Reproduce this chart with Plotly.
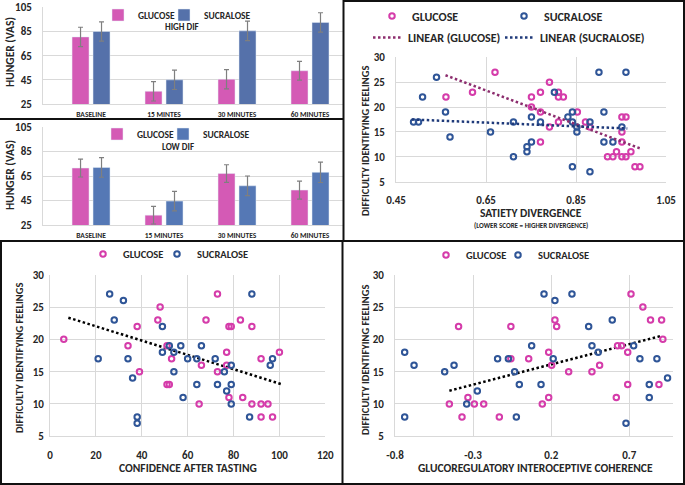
import numpy as np
import plotly.graph_objects as go

W, H = 685, 485
FONT = "Carlito, Lato, 'Open Sans', sans-serif"
TXT = "#262626"
GRID = "#D9D9D9"

# ---------------- data ----------------
# Hunger (VAS) bar charts
times_high = ["BASELINE", "15 MINTES", "30 MINUTES", "60 MINUTES"]
times_low = ["BASELINE", "15 MINUTES", "30 MINUTES", "60 MINUTES"]
high_glucose = [80.5, 35.5, 45.5, 52.5]
high_glucose_err = [8, 8, 8, 7.7]
high_sucralose = [85, 45, 85.5, 92.5]
high_sucralose_err = [8, 8, 8, 8]
low_glucose = [71.5, 33, 67, 53.5]
low_glucose_err = [7.3, 7.2, 7.2, 7.3]
low_sucralose = [72, 44.5, 57, 68]
low_sucralose_err = [8, 8, 8, 8.3]

# Satiety divergence vs difficulty identifying feelings
sat_glu_x = [0.670, 0.561, 0.620, 0.751, 0.771, 0.791, 0.811, 0.811, 0.822, 0.751,
             0.771, 0.853, 0.811, 0.791, 0.771, 0.871, 0.881, 0.952, 0.961, 0.952,
             0.952, 0.920, 0.932, 0.940, 0.952, 0.961, 0.972, 0.981, 0.992]
sat_glu_y = [27, 22, 23, 22, 23, 25, 23, 22, 22, 20,
             19, 19, 17, 16, 13, 17, 16, 18, 18, 15,
             13, 10, 10, 11, 10, 10, 11, 8, 8]
sat_suc_x = [0.540, 0.509, 0.489, 0.500, 0.560, 0.570, 0.660, 0.711, 0.711, 0.741,
             0.741, 0.751, 0.751, 0.771, 0.802, 0.832, 0.842, 0.842, 0.852, 0.852,
             0.842, 0.881, 0.881, 0.901, 0.912, 0.912, 0.932, 0.952, 0.961]
sat_suc_y = [26, 22, 17, 17, 19, 14, 15, 17, 10, 12,
             11, 13, 18, 17, 23, 18, 19, 17, 16, 15,
             8, 17, 7, 27, 19, 13, 13, 16, 27]
sat_glu_trend_x = [0.560, 0.995]
sat_glu_trend_y = [26.4, 11.6]
sat_suc_trend_x = [0.485, 0.964]
sat_suc_trend_y = [17.5, 15.7]

# Confidence after tasting
conf_glu_x = [6, 34, 38, 39, 48, 47, 51, 52, 51, 53, 65, 66, 68, 73, 73,
              77, 77, 78, 78, 79, 83, 84, 88, 88, 92, 92, 92, 95, 97, 100]
conf_glu_y = [20, 19, 22, 15, 25, 23, 13, 13, 19, 17, 10, 16, 23, 27, 15,
              18, 16, 11, 22, 22, 23, 11, 22, 10, 17, 10, 8, 10, 8, 18]
conf_suc_x = [21, 26, 28, 32, 34, 36, 38, 38, 49, 49, 52, 54, 54, 57, 58,
              60, 64, 64, 66, 72, 73, 76, 77, 79, 79, 79, 87, 88, 96, 97]
conf_suc_y = [17, 27, 23, 26, 17, 14, 8, 7, 22, 18, 19, 18, 15, 19, 11,
              17, 17, 13, 19, 17, 13, 15, 12, 16, 13, 10, 8, 27, 16, 17]
conf_trend_x = [8, 101.5]
conf_trend_y = [23.35, 13.0]

# Glucoregulatory interoceptive coherence
coh_glu_x = [-0.393, -0.333, -0.452, -0.371, -0.292, -0.232, -0.132, -0.058, -0.058, 0.056,
             0.143, 0.184, 0.184, 0.203, 0.224, 0.235, 0.312, 0.461, 0.510, 0.617,
             0.625, 0.651, 0.690, 0.690, 0.711, 0.787, 0.836, 0.890, 0.907, 0.915]
coh_glu_y = [22, 11, 10, 8, 10, 10, 8, 22, 17, 17,
             10, 18, 11, 16, 23, 22, 15, 15, 16, 11,
             19, 19, 18, 13, 27, 25, 23, 13, 23, 20]
coh_suc_x = [-0.738, -0.738, -0.678, -0.482, -0.422, -0.341, -0.273, -0.143, -0.074, -0.034,
             -0.023, -0.004, 0.075, 0.135, 0.154, 0.213, 0.224, 0.333, 0.440, 0.461,
             0.501, 0.591, 0.679, 0.728, 0.768, 0.828, 0.828, 0.877, 0.945]
coh_suc_y = [18, 8, 16, 15, 16, 10, 12, 17, 17, 15,
             8, 13, 19, 13, 27, 17, 26, 27, 22, 19,
             18, 23, 7, 19, 17, 13, 11, 17, 14]
coh_trend_x = [-0.452, 0.900]
coh_trend_y = [12.05, 20.5]

# ---------------- styles ----------------
BAR_GLU = "#D45AB5"
BAR_SUC = "#5571AA"
PT_GLU = "#D53CAA"
PT_SUC = "#2F5597"
LN_GLU = "#8C2D6E"
LN_SUC = "#1F3A7A"


def fx(px):
    return px / W


def fy(py):
    return 1 - py / H


fig = go.Figure()

# ---- bar charts ----
ekw = dict(type="data", color="#7F7F7F", thickness=1.2, width=2.5)
fig.add_trace(go.Bar(x=times_high, y=high_glucose, name="GLUCOSE", marker_color=BAR_GLU,
                     error_y=dict(array=high_glucose_err, **ekw), xaxis="x", yaxis="y",
                     legend="legend"))
fig.add_trace(go.Bar(x=times_high, y=high_sucralose, name="SUCRALOSE", marker_color=BAR_SUC,
                     error_y=dict(array=high_sucralose_err, **ekw), xaxis="x", yaxis="y",
                     legend="legend2"))
fig.add_trace(go.Bar(x=times_low, y=low_glucose, name="GLUCOSE", marker_color=BAR_GLU,
                     error_y=dict(array=low_glucose_err, **ekw), xaxis="x2", yaxis="y2",
                     legend="legend3"))
fig.add_trace(go.Bar(x=times_low, y=low_sucralose, name="SUCRALOSE", marker_color="#5578B5",
                     error_y=dict(array=low_sucralose_err, **ekw), xaxis="x2", yaxis="y2",
                     legend="legend4"))


# ---- scatter panels ----
def pts(x, y, color, name, xa, ya, leg, show=True):
    return go.Scatter(x=x, y=y, mode="markers", name=name, xaxis=xa, yaxis=ya,
                      legend=leg, showlegend=show,
                      marker=dict(symbol="circle-open", size=5.5, color=color,
                                  line=dict(width=2, color=color)))


DOT = "2.5px,2.5px"
fig.add_trace(pts(sat_glu_x, sat_glu_y, PT_GLU, "GLUCOSE", "x3", "y3", "legend5"))
fig.add_trace(pts(sat_suc_x, sat_suc_y, PT_SUC, "SUCRALOSE", "x3", "y3", "legend6"))
fig.add_trace(go.Scatter(x=sat_glu_trend_x, y=sat_glu_trend_y, mode="lines",
                         name="LINEAR (GLUCOSE)", xaxis="x3", yaxis="y3", legend="legend7",
                         line=dict(color=LN_GLU, width=2.5, dash=DOT)))
fig.add_trace(go.Scatter(x=sat_suc_trend_x, y=sat_suc_trend_y, mode="lines",
                         name="LINEAR (SUCRALOSE)", xaxis="x3", yaxis="y3", legend="legend8",
                         line=dict(color=LN_SUC, width=2.5, dash=DOT)))

fig.add_trace(go.Scatter(x=conf_trend_x, y=conf_trend_y, mode="lines", showlegend=False,
                         xaxis="x4", yaxis="y4",
                         line=dict(color="#000000", width=2.5, dash=DOT)))
fig.add_trace(pts(conf_glu_x, conf_glu_y, PT_GLU, "GLUCOSE", "x4", "y4", "legend9"))
fig.add_trace(pts(conf_suc_x, conf_suc_y, PT_SUC, "SUCRALOSE", "x4", "y4", "legend10"))

fig.add_trace(go.Scatter(x=coh_trend_x, y=coh_trend_y, mode="lines", showlegend=False,
                         xaxis="x5", yaxis="y5",
                         line=dict(color="#000000", width=2.5, dash=DOT)))
fig.add_trace(pts(coh_glu_x, coh_glu_y, PT_GLU, "GLUCOSE", "x5", "y5", "legend11"))
fig.add_trace(pts(coh_suc_x, coh_suc_y, PT_SUC, "SUCRALOSE", "x5", "y5", "legend12"))

# ---------------- axes ----------------
tickf = dict(family=FONT, size=11, color=TXT, weight="bold")


def ylin(domain, rng, dtick, standoff, anchor):
    return dict(domain=domain, range=rng, dtick=dtick, tick0=rng[0], showgrid=True,
                gridcolor=GRID, gridwidth=1, zeroline=False, showline=True,
                linecolor=GRID, linewidth=1, ticks="outside", ticklen=0,
                ticklabelstandoff=standoff, tickfont=tickf, anchor=anchor,
                fixedrange=True, ticklabeloverflow="allow")


def xlin(domain, rng, tickvals, standoff, anchor, fmt=None):
    d = dict(domain=domain, range=rng, tickvals=tickvals, showgrid=True, gridcolor=GRID,
             gridwidth=1, zeroline=False, showline=True, linecolor=GRID, linewidth=1,
             ticks="outside", ticklen=0, ticklabelstandoff=standoff, tickfont=tickf,
             anchor=anchor, fixedrange=True, ticklabeloverflow="allow")
    if fmt:
        d["ticktext"] = fmt
    return d


cat_range = [-0.658, 3.452]
catfont = dict(family=FONT, size=7.5, color=TXT, weight="bold")


def xcat(anchor):
    return dict(domain=[fx(43), fx(343)], type="category", range=cat_range, anchor=anchor,
                showgrid=False, showline=True, linecolor=GRID, ticks="outside", ticklen=0,
                ticklabelstandoff=3, tickfont=catfont, fixedrange=True)


layout_axes = dict(
    xaxis=xcat("y"),
    yaxis=ylin([fy(104), fy(7.3)], [25, 105], 20, 8, "x"),
    xaxis2=xcat("y2"),
    yaxis2=ylin([fy(225), fy(127)], [25, 105], 20, 8, "x2"),
    xaxis3=xlin([fx(396), fx(666)], [0.45, 1.05], [0.45, 0.65, 0.85, 1.05], 8, "y3",
                ["0.45", "0.65", "0.85", "1.05"]),
    yaxis3=ylin([fy(181.7), fy(57.3)], [5, 30], 5, 8, "x3"),
    xaxis4=xlin([fx(50), fx(325.3)], [0, 120], [0, 20, 40, 60, 80, 100, 120], 8, "y4"),
    yaxis4=ylin([fy(436.3), fy(274.7)], [5, 30], 5, 3, "x4"),
    xaxis5=xlin([fx(395), fx(673)], [-0.8, 0.98], [-0.8, -0.3, 0.2, 0.7], 8, "y5",
                ["-0.8", "-0.3", "0.2", "0.7"]),
    yaxis5=ylin([fy(436.3), fy(274.7)], [5, 30], 5, 8, "x5"),
)


# ---------------- legends ----------------
def leg(px, py, size):
    return dict(x=fx(px), y=fy(py), xanchor="left", yanchor="middle", orientation="h",
                bgcolor="rgba(0,0,0,0)", borderwidth=0, itemclick=False,
                itemdoubleclick=False,
                font=dict(family=FONT, size=size, color=TXT, weight="bold"))


legends = dict(
    legend=leg(98, 15, 9.5), legend2=leg(164, 15, 9.5),
    legend3=leg(97, 134, 9.5), legend4=leg(163, 134, 9.5),
    legend5=leg(372, 16, 12), legend6=leg(504, 16, 12),
    legend7=leg(368, 37.5, 12), legend8=leg(500, 37.5, 12),
    legend9=leg(83, 254, 10.5), legend10=leg(157, 254, 10.5),
    legend11=leg(426, 255, 10.5), legend12=leg(498, 255, 10.5),
)


# ---------------- annotations (titles) ----------------
def ann(text, px, py, size, angle=0):
    return dict(text=text, x=fx(px), y=fy(py), xref="paper", yref="paper",
                showarrow=False, textangle=angle, xanchor="center", yanchor="middle",
                font=dict(family=FONT, size=size, color=TXT, weight="bold"))


annotations = [
    ann("HUNGER (VAS)", 10, 52, 11.5, -90),
    ann("HUNGER (VAS)", 10, 175, 11.5, -90),
    ann("HIGH DIF", 182, 26, 9),
    ann("LOW DIF", 178, 146, 9),
    ann("DIFFICULTY IDENTIFYING FEELINGS", 365, 141, 10.5, -90),
    ann("SATIETY DIVERGENCE", 531, 213, 11.5),
    ann("(LOWER SCORE = HIGHER DIVERGENCE)", 531, 225, 7),
    ann("DIFFICULTY IDENTIFYING FEELINGS", 19, 358, 10.5, -90),
    ann("CONFIDENCE AFTER TASTING", 188, 468, 11.5),
    ann("DIFFICULTY IDENTIFYING FEELINGS", 365, 360, 10.5, -90),
    ann("GLUCOREGULATORY INTEROCEPTIVE COHERENCE", 535, 468, 11.5),
]


# ---------------- panel borders ----------------
def seg(x0, y0, x1, y1, w=2):
    return dict(type="line", xref="paper", yref="paper", x0=fx(x0), y0=fy(y0),
                x1=fx(x1), y1=fy(y1), line=dict(color="#111111", width=w))


shapes = [
    seg(343.5, 0, 343.5, 241),
    seg(0, 241, 685, 241),
    seg(342.5, 241, 342.5, 485),
    seg(0, 119, 343.5, 119),
    seg(684, 0, 684, 485),
    seg(0, 484, 685, 484),
    seg(1, 241, 1, 485),
    seg(343.5, 1, 685, 1),
]

fig.update_layout(
    width=W, height=H, margin=dict(l=0, r=0, t=0, b=0, autoexpand=False),
    paper_bgcolor="white", plot_bgcolor="white",
    font=dict(family=FONT, color=TXT),
    barmode="group", bargap=0.425, bargroupgap=0.19,
    annotations=annotations, shapes=shapes,
    **layout_axes, **legends,
)

fig.write_html(
    "out.html",
    config={"displayModeBar": False, "staticPlot": False},
    post_script="document.body.style.margin='0';document.body.style.padding='0';"
                "document.body.style.overflow='hidden';",
)
